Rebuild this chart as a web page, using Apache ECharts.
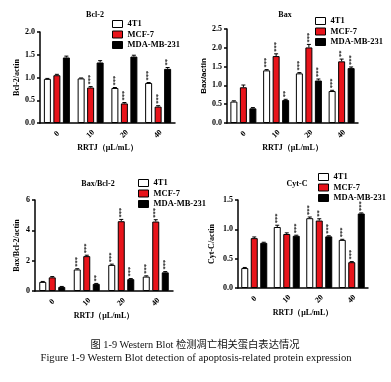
<!DOCTYPE html>
<html><head><meta charset="utf-8">
<script src="https://cdn.jsdelivr.net/npm/echarts@6/dist/echarts.min.js"></script>
<style>html,body{margin:0;padding:0;background:#fff}#c{width:391px;height:382px}</style>
</head><body><div id="c"></div>
<script>
const categories = ['0', '10', '20', '40'];
const seriesNames = ['4T1', 'MCF-7', 'MDA-MB-231'];

const bcl2_4T1 = [0.97, 0.98, 0.77, 0.88];
const bcl2_MCF7 = [1.05, 0.78, 0.43, 0.36];
const bcl2_MDA = [1.44, 1.33, 1.46, 1.19];
const bcl2_err_4T1 = [0.01, 0.01, 0.01, 0.01];
const bcl2_err_MCF7 = [0.02, 0.02, 0.02, 0.02];
const bcl2_err_MDA = [0.03, 0.04, 0.03, 0.03];
const bcl2_sig_4T1 = ['', '', '***', '***'];
const bcl2_sig_MCF7 = ['', '***', '***', '***'];
const bcl2_sig_MDA = ['', '', '', '**'];

const bax_4T1 = [0.57, 1.40, 1.32, 0.85];
const bax_MCF7 = [0.95, 1.78, 2.01, 1.64];
const bax_MDA = [0.39, 0.61, 1.13, 1.46];
const bax_err_4T1 = [0.02, 0.02, 0.02, 0.02];
const bax_err_MCF7 = [0.06, 0.06, 0.08, 0.06];
const bax_err_MDA = [0.02, 0.02, 0.04, 0.03];
const bax_sig_4T1 = ['', '***', '***', '***'];
const bax_sig_MCF7 = ['', '***', '***', '**'];
const bax_sig_MDA = ['', '**', '***', '***'];

const ratio_4T1 = [0.60, 1.42, 1.72, 0.95];
const ratio_MCF7 = [0.90, 2.30, 4.60, 4.58];
const ratio_MDA = [0.27, 0.47, 0.78, 1.23];
const ratio_err_4T1 = [0.03, 0.05, 0.05, 0.05];
const ratio_err_MCF7 = [0.05, 0.06, 0.12, 0.12];
const ratio_err_MDA = [0.03, 0.03, 0.04, 0.05];
const ratio_sig_4T1 = ['', '***', '***', '***'];
const ratio_sig_MCF7 = ['', '***', '***', '***'];
const ratio_sig_MDA = ['', '**', '***', '***'];

const cytc_4T1 = [0.34, 1.04, 1.19, 0.82];
const cytc_MCF7 = [0.85, 0.92, 1.15, 0.44];
const cytc_MDA = [0.77, 0.89, 0.88, 1.27];
const cytc_err_4T1 = [0.01, 0.03, 0.02, 0.01];
const cytc_err_MCF7 = [0.02, 0.02, 0.03, 0.01];
const cytc_err_MDA = [0.01, 0.01, 0.01, 0.01];
const cytc_sig_4T1 = ['', '***', '***', '***'];
const cytc_sig_MCF7 = ['', '', '**', '***'];
const cytc_sig_MDA = ['', '***', '***', '***'];

const panelTitles = ['Bcl-2', 'Bax', 'Bax/Bcl-2', 'Cyt-C'];
const yNames = ['Bcl-2/actin', 'Bax/actin', 'Bax/Bcl-2/actin', 'Cyt-C/actin'];
const yMax = [2.0, 2.5, 6, 1.5];
const yInterval = [0.5, 0.5, 2, 0.5];
const xName = 'RRTJ（μL/mL）';
const caption1 = '图 1-9 Western Blot 检测凋亡相关蛋白表达情况';
const caption2 = 'Figure 1-9 Western Blot detection of apoptosis-related protein expression';

const panels = [
  { vals: [bcl2_4T1, bcl2_MCF7, bcl2_MDA], errs: [bcl2_err_4T1, bcl2_err_MCF7, bcl2_err_MDA], sigs: [bcl2_sig_4T1, bcl2_sig_MCF7, bcl2_sig_MDA] },
  { vals: [bax_4T1, bax_MCF7, bax_MDA], errs: [bax_err_4T1, bax_err_MCF7, bax_err_MDA], sigs: [bax_sig_4T1, bax_sig_MCF7, bax_sig_MDA] },
  { vals: [ratio_4T1, ratio_MCF7, ratio_MDA], errs: [ratio_err_4T1, ratio_err_MCF7, ratio_err_MDA], sigs: [ratio_sig_4T1, ratio_sig_MCF7, ratio_sig_MDA] },
  { vals: [cytc_4T1, cytc_MCF7, cytc_MDA], errs: [cytc_err_4T1, cytc_err_MCF7, cytc_err_MDA], sigs: [cytc_sig_4T1, cytc_sig_MCF7, cytc_sig_MDA] }
];

const SERIF = '"Liberation Serif","Times New Roman",serif';
const SANS = '"Liberation Sans",Arial,sans-serif';
const colors = ['#ffffff', '#e8141b', '#000000'];
const grids = [
  { left: 40, top: 32, width: 135, height: 91 },
  { left: 227, top: 29, width: 131, height: 94 },
  { left: 35, top: 200, width: 138, height: 91 },
  { left: 238, top: 200, width: 130, height: 88 }
];
const legendPos = [
  { left: 112, top: 19 },
  { left: 315, top: 16 },
  { left: 138, top: 178 },
  { left: 318, top: 172 }
];
const titlePos = [
  { x: 95, y: 15 }, { x: 285, y: 15 }, { x: 98, y: 184 }, { x: 297, y: 184 }
];
const yNameGap = [19, 14, 14, 22];
const yNameFont = [SERIF, SANS, SERIF, SERIF];

const BAR_W = 7, GAP = 2.5;
const option = {
  animation: false,
  backgroundColor: '#fff',
  title: [],
  legend: [],
  grid: grids.map(g => Object.assign({ containLabel: false }, g)),
  xAxis: [], yAxis: [], series: []
};

titlePos.forEach((p, i) => {
  option.title.push({ text: panelTitles[i], left: p.x, top: p.y, textAlign: 'center', textVerticalAlign: 'middle', padding: 0,
    textStyle: { fontFamily: SERIF, fontWeight: 'bold', fontSize: 8, color: '#000' } });
});
option.title.push({ text: caption1, left: 195, top: 345, textAlign: 'center', textVerticalAlign: 'middle', padding: 0,
  textStyle: { fontFamily: SERIF + ',"Noto Sans CJK SC"', fontWeight: 'normal', fontSize: 10.3, color: '#111' } });
option.title.push({ text: caption2, left: 196, top: 358, textAlign: 'center', textVerticalAlign: 'middle', padding: 0,
  textStyle: { fontFamily: SERIF, fontWeight: 'normal', fontSize: 10.6, color: '#111' } });

for (let i = 0; i < 4; i++) {
  option.legend.push({
    data: seriesNames, orient: 'vertical', left: legendPos[i].left, top: legendPos[i].top, padding: 0,
    itemWidth: 10, itemHeight: 7, itemGap: 0.5, icon: 'rect', selectedMode: false,
    itemStyle: { borderColor: '#000', borderWidth: 1 },
    textStyle: { fontFamily: SERIF, fontWeight: 'bold', fontSize: 8.5, color: '#000', lineHeight: 10, padding: [0, 0, 0, 0] }
  });
  option.xAxis.push({
    type: 'category', gridIndex: i, data: categories,
    name: xName, nameLocation: 'middle', nameGap: 21,
    nameTextStyle: { fontFamily: SERIF, fontWeight: 'bold', fontSize: 8, color: '#000' },
    axisLine: { lineStyle: { color: '#000', width: 1.5 } },
    axisTick: { show: false },
    axisLabel: { rotate: 45, margin: 11, align: 'center', verticalAlign: 'middle', fontFamily: SERIF, fontWeight: 'bold', fontSize: 8, color: '#000' }
  });
  option.yAxis.push({
    type: 'value', gridIndex: i, min: 0, max: yMax[i], interval: yInterval[i],
    name: yNames[i], nameLocation: 'middle', nameRotate: 90, nameGap: yNameGap[i],
    nameTextStyle: { fontFamily: yNameFont[i], fontWeight: 'bold', fontSize: 8, color: '#000' },
    axisLine: { show: true, lineStyle: { color: '#000', width: 1.5 } },
    axisTick: { show: true, length: 3, lineStyle: { color: '#000', width: 1.5 } },
    splitLine: { show: false },
    axisLabel: { margin: 5, fontFamily: SERIF, fontWeight: 'bold', fontSize: 8, color: '#000',
      formatter: v => (yInterval[i] < 1 ? v.toFixed(1) : String(v)) }
  });
  const pnl = panels[i];
  for (let s = 0; s < 3; s++) {
    const sig = pnl.sigs[s];
    const err = pnl.errs[s];
    option.series.push({
      type: 'bar', name: seriesNames[s], xAxisIndex: i, yAxisIndex: i,
      data: pnl.vals[s], barWidth: BAR_W, barGap: (GAP / BAR_W * 100) + '%',
      itemStyle: { color: colors[s], borderColor: '#000', borderWidth: 1 },
      label: { show: true, position: 'top', rotate: 90, align: 'left', verticalAlign: 'middle', distance: 2,
        fontFamily: SERIF, fontWeight: 'bold', fontSize: 6.5, color: '#000',
        formatter: p => sig[p.dataIndex] },
      z: 2
    });
    const off = (s - 1) * (BAR_W + GAP);
    option.series.push({
      type: 'custom', xAxisIndex: i, yAxisIndex: i, z: 3, silent: true,
      data: pnl.vals[s].map((v, k) => [k, v, err[k]]),
      renderItem: (params, api) => {
        const b = api.coord([api.value(0), api.value(1)]);
        const t = api.coord([api.value(0), api.value(1) + api.value(2)]);
        const x = b[0] + off;
        return { type: 'group', children: [
          { type: 'line', shape: { x1: x, y1: b[1], x2: x, y2: t[1] }, style: { stroke: '#000', lineWidth: 1 } },
          { type: 'line', shape: { x1: x - 2, y1: t[1], x2: x + 2, y2: t[1] }, style: { stroke: '#000', lineWidth: 1 } }
        ] };
      }
    });
  }
}
// significance labels sit above the error bars
option.series.forEach((se, idx) => {
  if (se.type === 'bar') {
    const cust = option.series[idx + 1];
    const i = se.xAxisIndex;
    const pxPerUnit = grids[i].height / yMax[i];
    se.data = se.data.map((v, k) => ({ value: v, label: { distance: 2 + cust.data[k][2] * pxPerUnit } }));
  }
});
const chart = echarts.init(document.getElementById('c'), null, { renderer: 'canvas' });
chart.setOption(option);
</script></body></html>
